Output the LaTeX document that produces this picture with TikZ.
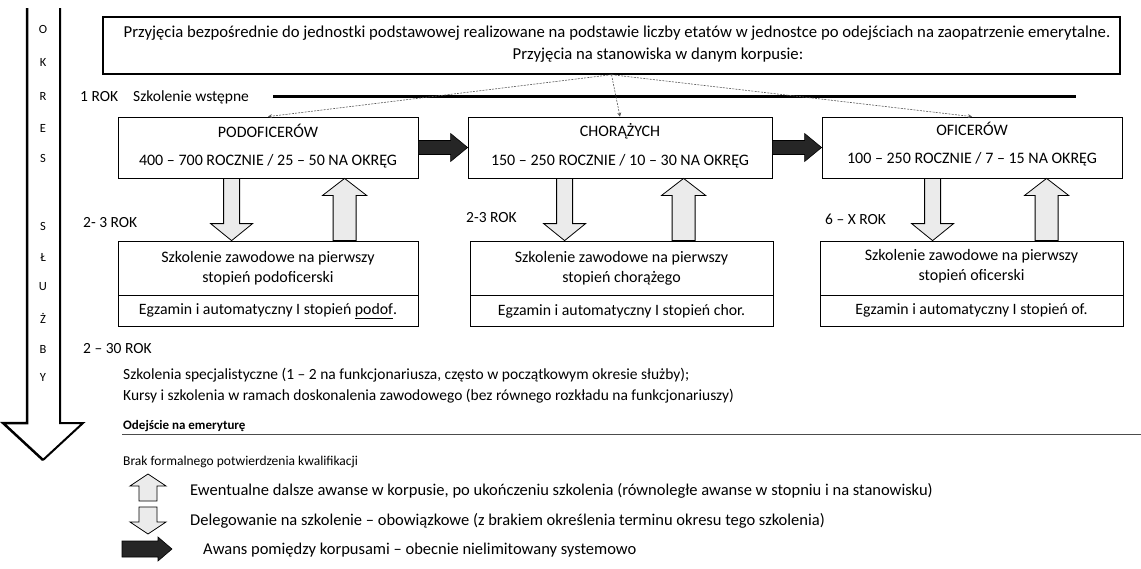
\documentclass[tikz,border=0pt]{standalone}
\usepackage{fontspec}
\setmainfont{Carlito}
\usetikzlibrary{calc,arrows.meta}
\tikzset{
  txt/.style={font=\fontsize{16.7}{20}\selectfont, inner sep=0pt, text=black},
  boxtxt/.style={font=\fontsize{16}{20}\selectfont, inner sep=0pt, text=black},
  examtxt/.style={font=\fontsize{15.8}{18}\selectfont, inner sep=0pt, text=black},
  smalltxt/.style={font=\fontsize{15.5}{18}\selectfont, inner sep=0pt, text=black},
  legtxt/.style={font=\fontsize{16.5}{19}\selectfont, inner sep=0pt, text=black},
  notetxt/.style={font=\fontsize{13.5}{16}\selectfont, inner sep=0pt, text=black},
  letter/.style={font=\fontsize{12.5}{14}\selectfont, inner sep=0pt, text=black},
  corpsbox/.style={draw=black, line width=0.8pt, minimum width=300pt, minimum height=61pt, inner sep=0pt},
  trainbox/.style={draw=black, line width=0.8pt, minimum width=300pt, minimum height=54pt, inner sep=0pt},
  exambox/.style={draw=black, line width=0.8pt, minimum width=300pt, minimum height=31pt, inner sep=0pt},
  conn/.style={draw=black!65, line width=0.6pt, dash pattern=on 2pt off 1.2pt, -{Stealth[length=4pt,width=4pt]}},
  hollow/.style={draw=black, line width=0.8pt, fill=black!8},
  darkarrow/.style={draw=black, line width=0.6pt, fill=black!85},
}
\newcommand\HDown[5]{\filldraw[hollow] ($(#1)+(-#3,0)$) -- ($(#2)+(-#3,-#5)$) -- ($(#2)+(-#4,-#5)$) -- (#2) -- ($(#2)+(#4,-#5)$) -- ($(#2)+(#3,-#5)$) -- ($(#1)+(#3,0)$) -- cycle;}
\newcommand\HUp[5]{\filldraw[hollow] ($(#1)+(-#3,0)$) -- ($(#2)+(-#3,#5)$) -- ($(#2)+(-#4,#5)$) -- (#2) -- ($(#2)+(#4,#5)$) -- ($(#2)+(#3,#5)$) -- ($(#1)+(#3,0)$) -- cycle;}
\newcommand\HRight[5]{\filldraw[darkarrow] ($(#1)+(0,-#3)$) -- ($(#2)+(-#5,-#3)$) -- ($(#2)+(-#5,-#4)$) -- (#2) -- ($(#2)+(-#5,#4)$) -- ($(#2)+(-#5,#3)$) -- ($(#1)+(0,#3)$) -- cycle;}
\begin{document}
\begin{tikzpicture}[x=1pt,y=-1pt]
\useasboundingbox[fill=white] (0,0) rectangle (1141,568);

% service-period arrow
\draw[line width=2.5pt, line join=miter] (27,8) -- (27,423) -- (3,423) -- (43,460);
\draw[line width=2pt, line join=miter] (43,460) -- (83,423) -- (60,423) -- (60,8);
\foreach \l/\y [count=\i] in {O/29,K/62,R/96,E/128,S/158,S/226,Ł/257,U/287,Ż/318,B/349,Y/377}
  \node[letter] (L\i) at (43,\y) {\l};

% top box
\node[draw=black, line width=1.4pt, minimum width=1017pt, minimum height=57pt, inner sep=0pt] (top) at (611.5,45.5) {};
\node[txt] (t1) at (617,33) {Przyjęcia bezpośrednie do jednostki podstawowej realizowane na podstawie liczby etatów w jednostce po odejściach na zaopatrzenie emerytalne.};
\node[txt] (t2) at (658,55) {Przyjęcia na stanowiska w danym korpusie:};

% initial training line
\node[smalltxt, anchor=west] (rok1) at (80,97) {1 ROK};
\node[smalltxt, anchor=west] (wst) at (133,97) {Szkolenie wstępne};
\coordinate (tl1) at (273,96);
\coordinate (tl2) at (1076,96);
\draw[line width=3pt] (tl1) -- (tl2);

% corps boxes
\node[corpsbox] (pod) at (268,147.5) {};
\node[corpsbox, minimum width=304pt] (chor) at (620,147.5) {};
\node[corpsbox] (ofic) at (972,147.5) {};
\node[boxtxt] (podT) at (268,131) {PODOFICERÓW};
\node[boxtxt] (podN) at (268,161) {400 – 700 ROCZNIE / 25 – 50 NA OKRĘG};
\node[boxtxt] (chorT) at (620,131) {CHORĄŻYCH};
\node[boxtxt] (chorN) at (620,161) {150 – 250 ROCZNIE / 10 – 30 NA OKRĘG};
\node[boxtxt] (oficT) at (972,129) {OFICERÓW};
\node[boxtxt] (oficN) at (972,159) {100 – 250 ROCZNIE / 7 – 15 NA OKRĘG};

\draw[conn] (top.south) -- (pod.north);
\draw[conn] (top.south) -- (chor.north);
\draw[conn] (top.south) -- (ofic.north);

% promotion between corps
\HRight{pod.east}{chor.west}{7}{14}{17}
\HRight{chor.east}{ofic.west}{7}{14}{17}

% year labels
\node[smalltxt, anchor=west] (y1) at (83,223) {2- 3 ROK};
\node[smalltxt, anchor=west] (y2) at (466,218) {2-3 ROK};
\node[smalltxt, anchor=west] (y3) at (825,219) {6 – X ROK};

% training boxes
\node[trainbox] (szk1) at (268,268) {};
\node[trainbox, minimum width=303pt] (szk2) at (621.5,268) {};
\node[trainbox, minimum width=303pt] (szk3) at (971.5,268) {};
\node[exambox] (egz1) at (268,310.5) {};
\node[exambox, minimum width=303pt] (egz2) at (621.5,310.5) {};
\node[exambox, minimum width=303pt] (egz3) at (971.5,310.5) {};
\node[boxtxt, align=center] (szk1T) at (268,268) {Szkolenie zawodowe na pierwszy\\stopień podoficerski};
\node[boxtxt, align=center] (szk2T) at (621.5,268) {Szkolenie zawodowe na pierwszy\\stopień chorążego};
\node[boxtxt, align=center] (szk3T) at (971.5,266) {Szkolenie zawodowe na pierwszy\\stopień oficerski};
\node[examtxt] (egz1T) at (268,311) {Egzamin i automatyczny I stopień \underline{podof}.};
\node[examtxt] (egz2T) at (621.5,311) {Egzamin i automatyczny I stopień chor.};
\node[examtxt] (egz3T) at (971.5,310) {Egzamin i automatyczny I stopień of.};

% delegation / promotion arrows
\path (pod.south west) ++(114,0) coordinate (d1t);  \path (d1t |- szk1.north) coordinate (d1b);
\path (pod.south west) ++(227,0) coordinate (u1b);  \path (u1b |- szk1.north) coordinate (u1a);
\path (chor.south west) ++(97,0) coordinate (d2t);  \path (d2t |- szk2.north) coordinate (d2b);
\path (chor.south west) ++(216,0) coordinate (u2b); \path (u2b |- szk2.north) coordinate (u2a);
\path (ofic.south west) ++(111,0) coordinate (d3t); \path (d3t |- szk3.north) coordinate (d3b);
\path (ofic.south west) ++(225,0) coordinate (u3b); \path (u3b |- szk3.north) coordinate (u3a);
\HDown{d1t}{d1b}{8}{21}{17}
\HUp{u1a}{u1b}{11.5}{22}{17}
\HDown{d2t}{d2b}{8}{21}{17}
\HUp{u2a}{u2b}{11.5}{22}{17}
\HDown{d3t}{d3b}{8}{21}{17}
\HUp{u3a}{u3b}{11.5}{22}{17}

% further training
\node[smalltxt, anchor=west] (y4) at (83,349) {2 – 30 ROK};
\node[smalltxt, anchor=west] (sp1) at (123,375) {Szkolenia specjalistyczne (1 – 2 na funkcjonariusza, często w początkowym okresie służby);};
\node[smalltxt, anchor=west] (sp2) at (123,396) {Kursy i szkolenia w ramach doskonalenia zawodowego (bez równego rozkładu na funkcjonariuszy)};

\node[font=\fontsize{13}{15}\selectfont\bfseries, inner sep=0pt, anchor=west] (odej) at (123,426) {Odejście na emeryturę};
\coordinate (odL) at (122,434);
\coordinate (odR) at (1141,434);
\draw[black!70, line width=0.7pt] (odL) -- (odR);

% legend
\node[notetxt, anchor=west] (brak) at (123,462) {Brak formalnego potwierdzenia kwalifikacji};
\coordinate (lu1) at (148,501); \coordinate (lu2) at (148,474);
\HUp{lu1}{lu2}{9}{18}{12}
\node[legtxt, anchor=west] (lg1) at (190,491) {Ewentualne dalsze awanse w korpusie, po ukończeniu szkolenia (równoległe awanse w stopniu i na stanowisku)};
\coordinate (ld1) at (148,507); \coordinate (ld2) at (148,534);
\HDown{ld1}{ld2}{9}{18}{12}
\node[legtxt, anchor=west] (lg2) at (190,521) {Delegowanie na szkolenie – obowiązkowe (z brakiem określenia terminu okresu tego szkolenia)};
\coordinate (lr1) at (122,549); \coordinate (lr2) at (172,549);
\HRight{lr1}{lr2}{8}{12}{14}
\node[legtxt, anchor=west] (lg3) at (203,550) {Awans pomiędzy korpusami – obecnie nielimitowany systemowo};
\end{tikzpicture}
\end{document}
